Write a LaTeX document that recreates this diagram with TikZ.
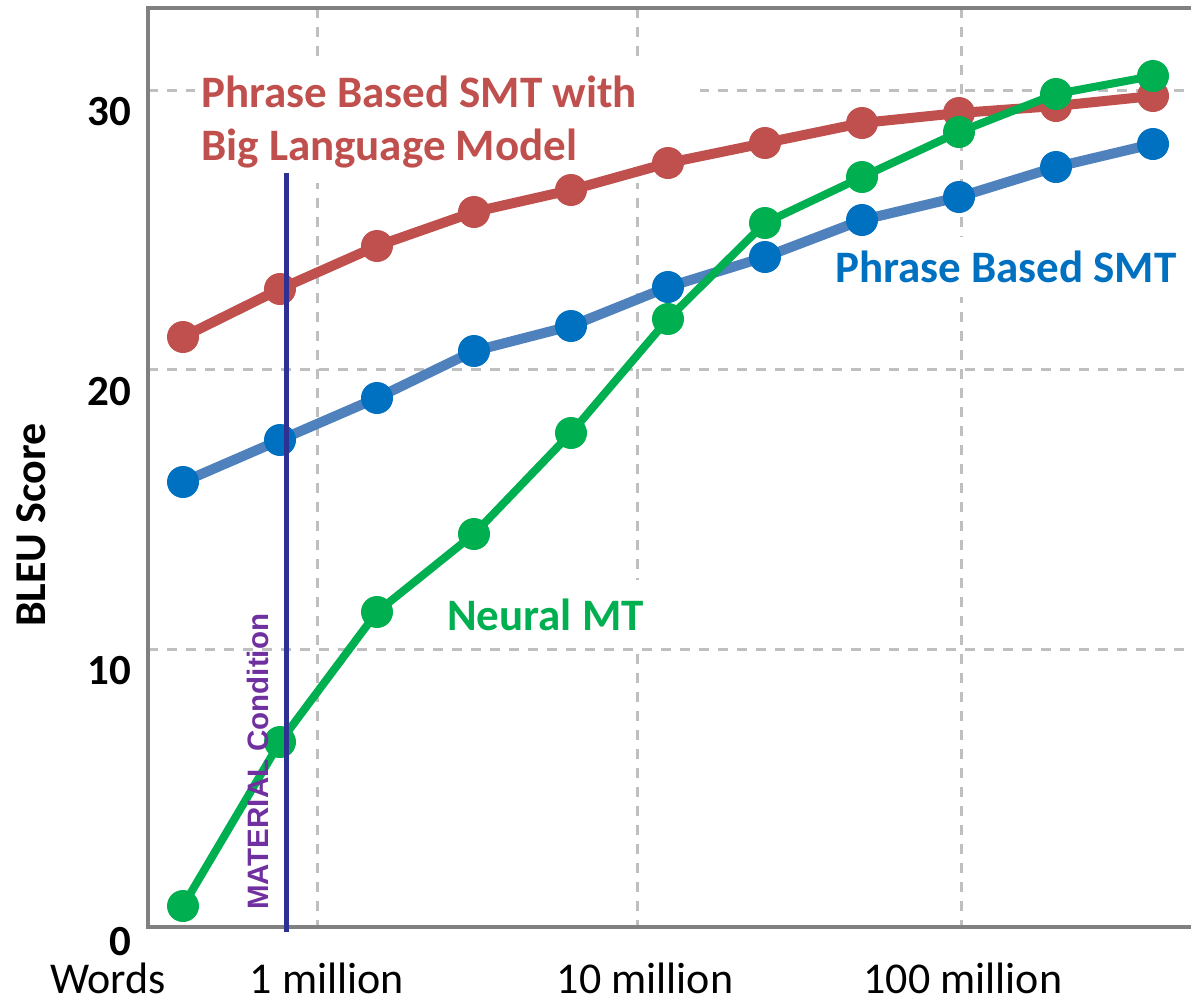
\documentclass[tikz,border=0pt]{standalone}
\usepackage{fontspec}
\setmainfont{Carlito}
\newfontfamily\arialfont{Liberation Sans}
\definecolor{redc}{HTML}{C0504D}
\definecolor{bluel}{HTML}{4F81BD}
\definecolor{bluem}{HTML}{0070C0}
\definecolor{greenc}{HTML}{00B050}
\definecolor{navyc}{HTML}{2E3192}
\definecolor{purplec}{HTML}{7030A0}
\definecolor{gridc}{HTML}{BFBFBF}
\definecolor{framec}{HTML}{808080}
\tikzset{
  gridline/.style={draw=gridc, line width=3pt, dash pattern=on 10pt off 9pt},
  lab/.style={font=\fontsize{45}{53}\selectfont\bfseries, inner sep=0pt},
  ticklab/.style={font=\fontsize{43}{50}\selectfont\bfseries, inner sep=0pt, anchor=base east},
  xlab/.style={font=\fontsize{44}{50}\selectfont, inner sep=0pt, anchor=base},
  mk/.style={circle, inner sep=0pt, minimum size=32pt},
  serline/.style={line width=10pt},
}
\begin{document}
\begin{tikzpicture}[x=1pt,y=-1pt]
\useasboundingbox (0,0) rectangle (1191,999);
\fill[white] (0,0) rectangle (1191,999);
% grid
\foreach \gx in {317,637,961} \draw[gridline] (\gx,8) -- (\gx,927);
\foreach \gy in {90,369,649} \draw[gridline] (148,\gy) -- (1195,\gy);
% frame
\draw[framec, line width=4pt] (1200,8) -- (148,8) -- (148,927) -- (1200,927);
% white label boxes
\fill[white] (195,63) rectangle (700,183);
\fill[white] (825,237) rectangle (1188,297);
\fill[white] (440,580) rectangle (650,646);
% tick labels
\node[ticklab] (t30) at (131,125) {30};
\node[ticklab] (t20) at (131,405) {20};
\node[ticklab] (t10) at (131,684) {10};
\node[ticklab] (t0) at (131,955) {0};
\node[font=\fontsize{44}{50}\selectfont\bfseries, inner sep=0pt, rotate=90, anchor=base west] (ylab) at (45,627) {BLEU Score};
\node[xlab] (xw) at (108,993) {Words};
\node[xlab] (x1) at (327,993) {1 million};
\node[xlab] (x2) at (645,993) {10 million};
\node[xlab] (x3) at (963,993) {100 million};
% data coordinates
\foreach \yy [count=\i] in {482,440,398,351,326,287,257,220,197,167,144}
  \coordinate (b\i) at ({183+97*(\i-1)},\yy);
\foreach \yy [count=\i] in {337,289,246,212,190,163,143,123,113,106,96}
  \coordinate (r\i) at ({183+97*(\i-1)},\yy);
\foreach \yy [count=\i] in {906,742,612,534,433,319,223,177,132,94,76}
  \coordinate (g\i) at ({183+97*(\i-1)},\yy);
% blue series
\draw[serline, bluel] (b1) -- (b2) -- (b3) -- (b4) -- (b5) -- (b6) -- (b7) -- (b8) -- (b9) -- (b10) -- (b11);
\foreach \i in {1,...,11} \node[mk, fill=bluem] (bm\i) at (b\i) {};
% red series
\draw[serline, redc] (r1) -- (r2) -- (r3) -- (r4) -- (r5) -- (r6) -- (r7) -- (r8) -- (r9) -- (r10) -- (r11);
\foreach \i in {1,...,11} \node[mk, fill=redc] (rm\i) at (r\i) {};
% green series
\draw[line width=8pt, greenc] (g1) -- (g2) -- (g3) -- (g4) -- (g5) -- (g6) -- (g7) -- (g8) -- (g9) -- (g10) -- (g11);
\foreach \i in {1,...,11} \node[mk, fill=greenc] (gm\i) at (g\i) {};
% series labels
\node[lab, text=redc, anchor=base west] (redlabA) at (201,107) {Phrase Based SMT with};
\node[lab, text=redc, anchor=base west] (redlabB) at (201,160) {Big Language Model};
\node[lab, text=bluem, anchor=base west] (bluelab) at (835,282) {Phrase Based SMT};
\node[lab, text=greenc, anchor=base west] (greenlab) at (447,630) {Neural MT};
% MATERIAL condition line
\coordinate (mtop) at (286,173);
\coordinate (mbot) at (286,932);
\draw[navyc, line width=5pt] (mtop) -- (mbot);
\node[font=\arialfont\fontsize{29.5}{30}\selectfont\bfseries, text=purplec, inner sep=0pt, rotate=90, anchor=base west] (mlab) at (268,910) {MATERIAL Condition};
\end{tikzpicture}
\end{document}
